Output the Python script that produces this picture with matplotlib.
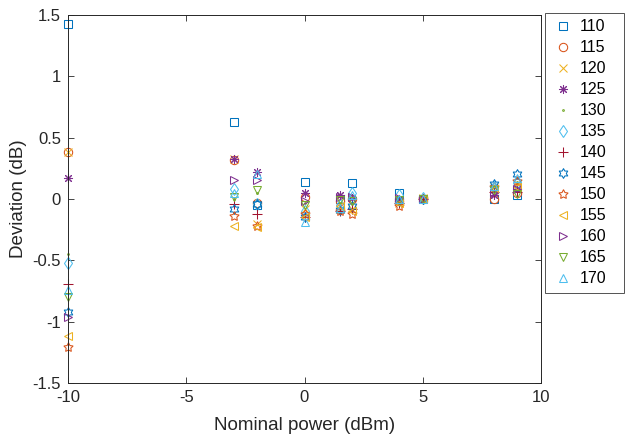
import numpy as np
from matplotlib import pyplot as plt
from matplotlib.path import Path

plt.rcParams['font.family'] = ['Liberation Sans', 'DejaVu Sans']
plt.rcParams['axes.unicode_minus'] = False

power = [-10, -3, -2, 0, 1.5, 2, 4, 5, 8, 9]
labels = ['110', '115', '120', '125', '130', '135', '140',
          '145', '150', '155', '160', '165', '170']

d110 = [1.43, 0.63, -0.05, 0.14, 0.00, 0.13, 0.05, 0.00, 0.00, 0.03]
d115 = [0.38, 0.32, -0.03, 0.02, -0.02, 0.00, -0.02, 0.00, 0.00, 0.05]
d120 = [0.38, 0.33, -0.20, -0.08, -0.08, -0.08, -0.03, 0.01, 0.10, 0.12]
d125 = [0.17, 0.33, 0.22, 0.05, 0.03, 0.01, 0.00, 0.00, 0.03, 0.08]
d130 = [-0.45, 0.00, 0.05, -0.03, -0.03, -0.04, 0.01, 0.00, 0.11, 0.14]
d135 = [-0.52, 0.08, -0.04, -0.10, -0.05, 0.05, 0.03, 0.01, 0.10, 0.13]
d140 = [-0.69, -0.04, -0.12, -0.15, -0.10, -0.08, -0.03, 0.00, 0.06, 0.06]
d145 = [-0.92, -0.08, -0.04, -0.15, -0.09, -0.06, -0.02, 0.00, 0.12, 0.20]
d150 = [-1.21, -0.14, -0.22, -0.12, -0.10, -0.12, -0.06, 0.00, 0.10, 0.15]
d155 = [-1.12, -0.22, -0.23, -0.15, -0.06, -0.10, -0.03, 0.00, 0.08, 0.10]
d160 = [-0.96, 0.155, 0.155, -0.02, 0.02, 0.02, 0.01, 0.00, 0.05, 0.08]
d165 = [-0.80, 0.02, 0.07, -0.05, -0.01, -0.02, -0.01, 0.00, 0.07, 0.04]
d170 = [-0.74, 0.05, 0.20, -0.19, -0.07, 0.03, 0.00, 0.00, 0.11, 0.17]

series = [d110, d115, d120, d125, d130, d135, d140,
          d145, d150, d155, d160, d165, d170]

# matlab default colour order, cycles after 7
mcols = ['#0072BD', '#D95319', '#EDB120', '#7E2F8E', '#77AC30', '#4DBEEE', '#A2142F']
colors = [mcols[i % 7] for i in range(len(series))]


def hexagram():
    # two overlapping triangles, like matlab 'h'
    a = np.deg2rad(np.arange(12) * 30 + 90)
    r = np.where(np.arange(12) % 2 == 0, 1.0, 0.577)
    v = np.column_stack([r * np.cos(a), r * np.sin(a)])
    v = np.vstack([v, v[0]])
    return Path(v, [Path.MOVETO] + [Path.LINETO] * 11 + [Path.CLOSEPOLY])


markers = ['s', 'o', 'x', (8, 2, 0), '.', 'd', '+',
           hexagram(), (5, 1, 0), '<', '>', 'v', '^']
sizes = [6, 6, 5.5, 6.5, 2.5, 6.5, 6.5, 7, 7, 6, 6, 6, 6]

fig = plt.figure(figsize=(6.26, 4.38), dpi=100)
ax = fig.add_axes([68/626, 1-383/438, (541-68)/626, (383-15)/438])

for y, lab, c, m, ms in zip(series, labels, colors, markers, sizes):
    ax.plot(power, y, linestyle='none', marker=m, markersize=ms,
            markerfacecolor='none', markeredgecolor=c, markeredgewidth=0.75,
            color=c, label=lab, clip_on=False)

ax.set_xlim(-10, 10)
ax.set_ylim(-1.5, 1.5)
ax.set_xticks([-10, -5, 0, 5, 10])
ax.set_yticks([-1.5, -1, -0.5, 0, 0.5, 1, 1.5])
ax.set_yticklabels(['-1.5', '-1', '-0.5', '0', '0.5', '1', '1.5'])
ax.tick_params(direction='in', top=True, right=True, length=4,
               labelsize=12, colors='#262626', width=0.6, pad=5)
for s in ax.spines.values():
    s.set_color('#262626')
    s.set_linewidth(0.7)
ax.set_xlabel('Nominal power (dBm)', fontsize=13.5, color='#262626', labelpad=9)
ax.set_ylabel('Deviation (dB)', fontsize=13.5, color='#262626', labelpad=4)

leg = ax.legend(loc='upper left', bbox_to_anchor=(545/626, 0, 79/626, 1-13/438),
                bbox_transform=fig.transFigure, mode='expand', fontsize=11.5,
                fancybox=False, edgecolor='#262626', borderaxespad=0,
                labelspacing=0.375, handlelength=1.4, handletextpad=0.35,
                borderpad=0.4)
leg.get_frame().set_linewidth(0.7)

plt.savefig('out.png', dpi=100)
